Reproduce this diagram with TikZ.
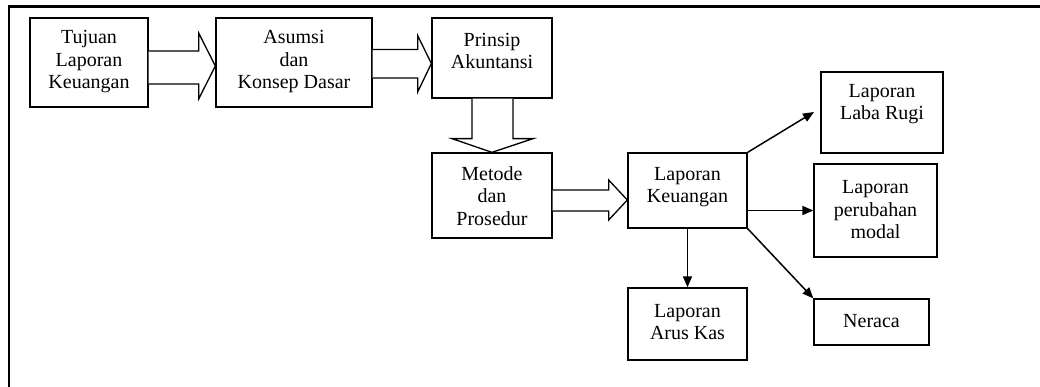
\documentclass[tikz,border=0pt]{standalone}
\usepackage{fontspec}
\setmainfont{Liberation Serif}
\usetikzlibrary{calc,arrows.meta}
\begin{document}
\begin{tikzpicture}[x=1pt,y=-1pt,
  box/.style={draw, line width=1.3pt, inner sep=0pt},
  txt/.style={align=center, inner sep=0pt, font=\fontsize{20}{22.5}\selectfont},
  blk/.style={draw, line width=1.3pt, line join=miter, fill=white},
  thin/.style={line width=1.5pt, -{Triangle[length=11pt,width=9pt]}},
  frame/.style={line width=2.5pt}]
\useasboundingbox (0,0) rectangle (1040,387);
% frame
\coordinate (fb) at (9,387);
\coordinate (fc) at (9,6.5);
\coordinate (fr) at (1040,6.5);
\draw[frame] (fb) -- (fc) -- (fr);
% boxes
\node[box, minimum width=118, minimum height=89] (tuj) at (89,62.5) {};
\node[txt] (tujt) at (89,62) {Tujuan\\Laporan\\Keuangan};
\node[box, minimum width=156, minimum height=89] (asu) at (294,62.5) {};
\node[txt] (asut) at (294,62) {Asumsi\\dan\\Konsep Dasar};
\node[box, minimum width=120, minimum height=80] (pri) at (492,58) {};
\node[txt] (prit) at (492,51) {Prinsip\\Akuntansi};
\node[box, minimum width=120, minimum height=85] (met) at (492,195.5) {};
\node[txt] (mett) at (492,196) {Metode\\dan\\Prosedur};
\node[box, minimum width=119, minimum height=75] (lk) at (687.5,190.5) {};
\node[txt] (lkt) at (687.5,187) {Laporan\\Keuangan};
\node[box, minimum width=122, minimum height=81] (lr) at (882,112.5) {};
\node[txt] (lrt) at (882,104) {Laporan\\Laba Rugi};
\node[box, minimum width=123, minimum height=93] (pm) at (875.5,210.5) {};
\node[txt] (pmt) at (875.5,210) {Laporan\\perubahan\\modal};
\node[box, minimum width=119, minimum height=72] (ak) at (687.5,324) {};
\node[txt] (akt) at (687.5,322) {Laporan\\Arus Kas};
\node[box, minimum width=115, minimum height=46] (ner) at (871.5,322) {};
\node[txt] (nert) at (871.5,321) {Neraca};
% block arrows
\draw[blk] ($(tuj.east)+(0,-11.5)$) -- ++(50,0) -- ++(0,-18) -- ($(asu.west)+(0,3.5)$)
  -- ($(tuj.east)+(50,36.5)$) -- ++(0,-15) -- ($(tuj.east)+(0,21.5)$);
\draw[blk] ($(asu.east)+(0,-13)$) -- ++(45,0) -- ++(0,-14) -- ($(pri.west)+(0,5.5)$)
  -- ($(asu.east)+(45,29.5)$) -- ++(0,-14) -- ($(asu.east)+(0,15.5)$);
\draw[blk] ($(pri.south)+(-20,0)$) -- ++(0,40) -- ++(-20,0) -- (met.north)
  -- ($(pri.south)+(41,40)$) -- ++(-20,0) -- ($(pri.south)+(21,0)$);
\draw[blk] ($(met.east)+(0,-5.5)$) -- ++(56,0) -- ++(0,-10) -- ($(lk.west)+(0,9.5)$)
  -- ($(met.east)+(56,24.5)$) -- ++(0,-9) -- ($(met.east)+(0,15.5)$);
% thin arrows
\coordinate (lre) at (814,112);
\draw[thin] (lk.north east) -- (lre);
\draw[thin] (lk.east |- pm.west) -- (pm.west);
\draw[thin] (lk.south) -- (ak.north);
\draw[thin] (lk.south east) -- (ner.north west);
\end{tikzpicture}
\end{document}
